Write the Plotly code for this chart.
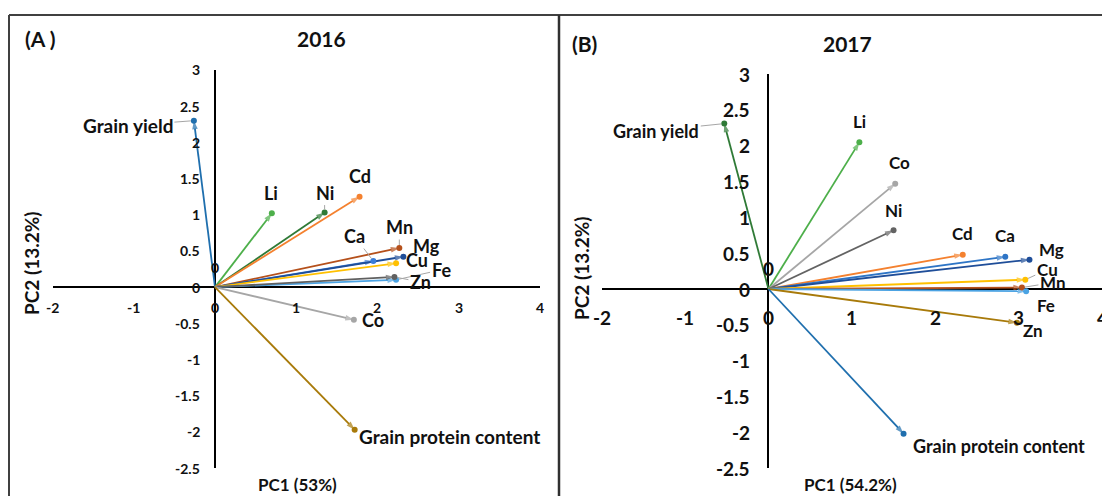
import plotly.graph_objects as go

# ---------------- data ----------------
vars_2016 = ["Grain yield", "Li", "Ni", "Cd", "Mn", "Ca", "Mg", "Cu", "Fe", "Zn", "Co", "Grain protein content"]
pc1_2016 = [-0.26, 0.70, 1.35, 1.78, 2.27, 1.95, 2.32, 2.23, 2.23, 2.21, 1.71, 1.72]
pc2_2016 = [2.30, 1.02, 1.03, 1.25, 0.54, 0.36, 0.42, 0.33, 0.10, 0.14, -0.45, -1.97]

vars_2017 = ["Grain yield", "Li", "Co", "Ni", "Cd", "Ca", "Mg", "Cu", "Mn", "Fe", "Zn", "Grain protein content"]
pc1_2017 = [-0.53, 1.09, 1.52, 1.50, 2.33, 2.84, 3.13, 3.08, 3.04, 3.09, 2.98, 1.62]
pc2_2017 = [2.31, 2.05, 1.47, 0.82, 0.48, 0.45, 0.41, 0.13, 0.02, -0.03, -0.47, -2.02]

x_ticks = [-2, -1, 0, 1, 2, 3, 4]
y_ticks = [-2.5, -2, -1.5, -1, -0.5, 0, 0.5, 1, 1.5, 2, 2.5, 3]
y_tick_text = ["-2.5", "-2", "-1.5", "-1", "-0.5", "0", "0.5", "1", "1.5", "2", "2.5", "3"]

panel_titles = ["2016", "2017"]
panel_tags = ["(A )", "(B)"]
x_titles = ["PC1 (53%)", "PC1 (54.2%)"]
y_titles = ["PC2 (13.2%)", "PC2 (13.2%)"]

# ---------------- style ----------------
OFF = 8                      # page body margin of the html page
W, H = 1110 - OFF, 504 - 2 * OFF
FONT = "Lato, 'Open Sans', sans-serif"

colors_2016 = ["#1F6FAE", "#4DAF4A", "#2F7A36", "#F4812F", "#B5501B", "#3B7DD8",
               "#1F4E99", "#FFC000", "#4BA3E3", "#606060", "#A6A6A6", "#A87A0A"]
colors_2017 = ["#2F7A36", "#4DAF4A", "#A6A6A6", "#636363", "#F4812F", "#2E75C6",
               "#1F4E99", "#FFC000", "#B5501B", "#4BA3E3", "#A87A0A", "#1F6FAE"]

# label offsets in pixels (dx, dy screen-down), leader flag
offs_2016 = [(-66, 5, True), (-1, -20, False), (0, -20, True), (0, -21, False),
             (0, -21, True), (-19, -25, True), (23, -11, False), (21, -3, False),
             (45, -10, True), (26, 5, True), (19, 0, False), (95, 7, False)]
offs_2017 = [(-68, 7, True), (0, -21, False), (4, -21, False), (0, -20, False),
             (0, -21, False), (0, -21, False), (22, -10, False), (22, -10, True),
             (31, -5, True), (20, 14, False), (16, 8, False), (95, 12, False)]


def pxx(px):
    return (px - OFF) / W


def pxy(py):
    return 1 - (py - OFF) / H


panels = [
    dict(names=vars_2016, xs=pc1_2016, ys=pc2_2016, colors=colors_2016, offs=offs_2016,
         xdom=[52.6, 539.8], ydom=[468.0, 70.0], xr=[-2, 4], yr=[-2.5, 3],
         tick_fs=14, lab_fs=18, xshift=-13, yshift=-20, zshift=20, lab_big=19),
    dict(names=vars_2017, xs=pc1_2017, ys=pc2_2017, colors=colors_2017, offs=offs_2017,
         xdom=[601.7, 1102.0], ydom=[468.0, 74.2], xr=[-2, 4], yr=[-2.5, 3],
         tick_fs=19, lab_fs=17, xshift=-16, yshift=-28, zshift=21, lab_big=18),
]

fig = go.Figure()
annotations = []

for i, p in enumerate(panels):
    xa = "x" if i == 0 else "x2"
    ya = "y" if i == 0 else "y2"
    # vectors
    for name, x, y, c in zip(p["names"], p["xs"], p["ys"], p["colors"]):
        fig.add_trace(go.Scatter(
            x=[0, x], y=[0, y], mode="lines+markers", xaxis=xa, yaxis=ya,
            line=dict(color=c, width=1.8),
            marker=dict(symbol=["circle", "arrow"], size=[0, 9], angleref="previous",
                        color=c, line=dict(width=0)),
            showlegend=False, hoverinfo="skip"))
    fig.add_trace(go.Scatter(
        x=p["xs"], y=p["ys"], mode="markers", xaxis=xa, yaxis=ya,
        marker=dict(size=6, color=p["colors"]), showlegend=False,
        text=p["names"], hoverinfo="text"))

    # vector labels
    for name, x, y, (dx, dy, lead) in zip(p["names"], p["xs"], p["ys"], p["offs"]):
        fs = p["lab_big"] if name.startswith("Grain") else p["lab_fs"]
        if lead:
            annotations.append(dict(
                x=x, y=y, xref=xa, yref=ya, text="<b>%s</b>" % name, showarrow=True,
                ax=dx, ay=dy, arrowhead=0, arrowwidth=1, arrowcolor="#A6A6A6",
                standoff=3, font=dict(family=FONT, size=fs, color="#111")))
        else:
            annotations.append(dict(
                x=x, y=y, xref=xa, yref=ya, text="<b>%s</b>" % name, showarrow=False,
                xanchor="center", yanchor="middle",
                xshift=dx, yshift=-dy, font=dict(family=FONT, size=fs, color="#111")))

    # origin data label
    annotations.append(dict(x=0, y=0, xref=xa, yref=ya, text="<b>0</b>", showarrow=False,
                            xanchor="center", yanchor="middle",
                            yshift=p["zshift"], font=dict(family=FONT, size=p["tick_fs"], color="#111")))

    # tick labels along the crossing axes
    for v in x_ticks:
        annotations.append(dict(x=v, y=0, xref=xa, yref=ya, text="<b>%g</b>" % v, showarrow=False,
                                xanchor="center", yanchor="middle",
                                yshift=p["yshift"], font=dict(family=FONT, size=p["tick_fs"], color="#111")))
    for v, t in zip(y_ticks, y_tick_text):
        annotations.append(dict(x=0, y=v, xref=xa, yref=ya, text="<b>%s</b>" % t, showarrow=False,
                                xanchor="right", yanchor="middle", xshift=p["xshift"],
                                font=dict(family=FONT, size=p["tick_fs"], color="#111")))

    axis_common = dict(showgrid=False, zeroline=True, zerolinecolor="#000", zerolinewidth=1.5,
                       showticklabels=False, ticks="", showline=False, fixedrange=True)
    fig.update_layout(**{
        ("xaxis" if i == 0 else "xaxis2"): dict(domain=[pxx(p["xdom"][0]), pxx(p["xdom"][1])],
                                                 range=p["xr"], anchor=ya, **axis_common),
        ("yaxis" if i == 0 else "yaxis2"): dict(domain=[pxy(p["ydom"][0]), pxy(p["ydom"][1])],
                                                 range=p["yr"], anchor=xa, **axis_common),
    })

# titles / tags / axis titles (page pixel positions)
title_pos = [(321, 39), (847, 44)]
tag_pos = [(40, 39), (584, 44)]
xt_pos = [(297, 484), (850, 484)]
yt_pos = [(31, 263), (581, 268)]


def paper_text(pos, txt, size, angle=0):
    return dict(x=pxx(pos[0]), y=pxy(pos[1]), xref="paper", yref="paper",
                text="<b>%s</b>" % txt, showarrow=False, textangle=angle,
                xanchor="center", yanchor="middle",
                font=dict(family=FONT, size=size, color="#111"))


for i in range(2):
    annotations.append(paper_text(title_pos[i], panel_titles[i], 21))
    annotations.append(paper_text(tag_pos[i], panel_tags[i], 21))
    annotations.append(paper_text(xt_pos[i], x_titles[i], 17))
    annotations.append(paper_text(yt_pos[i], y_titles[i], 19, -90))

shapes = [
    dict(type="line", xref="paper", yref="paper", x0=pxx(9), x1=1.0, y0=pxy(15), y1=pxy(15),
         line=dict(color="#404040", width=2)),
    dict(type="line", xref="paper", yref="paper", x0=pxx(9), x1=pxx(9), y0=0, y1=pxy(15),
         line=dict(color="#404040", width=2)),
    dict(type="line", xref="paper", yref="paper", x0=pxx(559), x1=pxx(559), y0=0, y1=pxy(15),
         line=dict(color="#303030", width=2.5)),
]

fig.update_layout(width=W, height=H, margin=dict(l=0, r=0, t=0, b=0),
                  plot_bgcolor="white", paper_bgcolor="white",
                  annotations=annotations, shapes=shapes, showlegend=False,
                  font=dict(family=FONT))

fig.write_html("out.html")
